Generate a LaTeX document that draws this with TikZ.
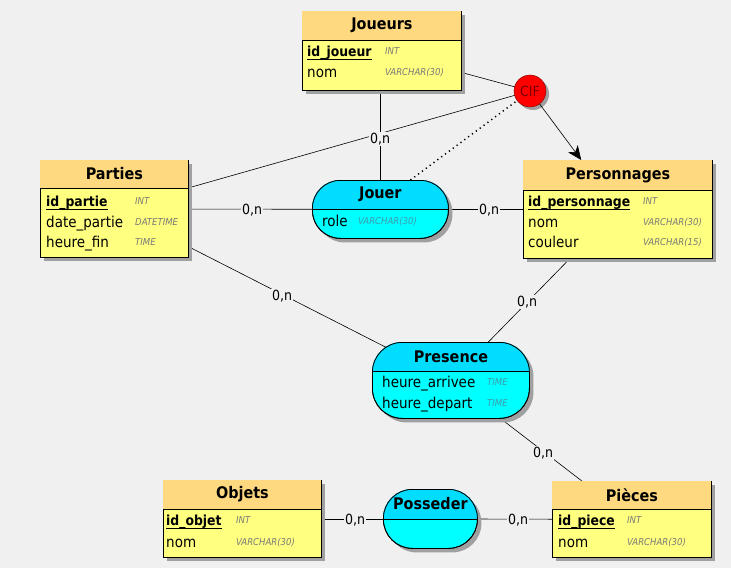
\documentclass[tikz,border=0pt]{standalone}
\usepackage{fontspec}
\setmainfont{DejaVu Sans Condensed}
\usetikzlibrary{shadows,arrows.meta}

\definecolor{fond}{HTML}{F0F0F0}
\definecolor{enthead}{HTML}{FFD980}
\definecolor{entbody}{HTML}{FFFF80}
\definecolor{assohead}{HTML}{00DDFF}
\definecolor{assobody}{HTML}{00FFFF}
\definecolor{typegray}{HTML}{787878}
\definecolor{assotype}{HTML}{3C9CAA}
\definecolor{cifred}{HTML}{FF0000}
\definecolor{cifdark}{HTML}{7A0000}
\definecolor{ombre}{HTML}{A0A0A0}

\pgfdeclarelayer{background}
\pgfsetlayers{background,main}

\tikzset{
  ombrage/.style={drop shadow={shadow xshift=4pt,shadow yshift=-4pt,fill=ombre,opacity=1}},
  entbox/.style={rectangle, draw=black, fill=entbody, ombrage, anchor=north west,
    inner sep=0pt, line width=0.8pt},
  assobox/.style={rectangle, draw=black, fill=assobody, ombrage, anchor=north west,
    inner sep=0pt, line width=0.8pt},
  titre/.style={font=\fontsize{16}{18}\selectfont\bfseries, inner sep=0pt},
  attr/.style={font=\fontsize{15}{17}\selectfont, anchor=west, inner sep=0pt,
    text height=11pt, text depth=3pt},
  cle/.style={font=\fontsize{13.8}{16}\selectfont\bfseries, anchor=west, inner sep=0pt,
    text height=11pt, text depth=3pt},
  typ/.style={font=\fontsize{9.5}{11}\selectfont\itshape, text=typegray, anchor=west,
    inner sep=0pt, text height=7pt, text depth=2pt},
  atyp/.style={typ, text=assotype},
  card/.style={font=\fontsize{14}{16}\selectfont, fill=fond, inner sep=1pt},
  lien/.style={draw=black, line width=0.6pt},
}

% entity box: name, x, y, width, height, header height, title
\newcommand\entite[7]{%
  \node[entbox, minimum width=#4pt, minimum height=#5pt] (#1) at (#2,#3) {};
  \fill[enthead] ([xshift=0.4pt,yshift=-0.4pt]#1.north west)
    rectangle ([xshift=-0.4pt,yshift=-#6pt]#1.north east);
  \draw[line width=0.8pt] ([yshift=-#6pt]#1.north west) -- ([yshift=-#6pt]#1.north east);
  \node[titre] (#1-titre) at ([yshift=-#6pt/2]#1.north) {#7};
}

% association box: name, x, y, width, height, corner radius, header height, title
\newcommand\asso[8]{%
  \node[assobox, rounded corners=#6pt, minimum width=#4pt, minimum height=#5pt] (#1) at (#2,#3) {};
  \begin{scope}
    \clip[rounded corners=#6pt] (#1.north west) rectangle (#1.south east);
    \fill[assohead] (#1.north west) rectangle ([yshift=-#7pt]#1.north east);
  \end{scope}
  \draw[line width=0.8pt] ([yshift=-#7pt]#1.north west) -- ([yshift=-#7pt]#1.north east);
  \draw[line width=0.8pt, rounded corners=#6pt] ([xshift=0.4pt,yshift=-0.4pt]#1.north west)
    rectangle ([xshift=-0.4pt,yshift=0.4pt]#1.south east);
  \node[titre] (#1-titre) at ([yshift=-#7pt/2]#1.north) {#8};
}

% underline of a primary key
\newcommand\souligne[1]{%
  \draw[line width=0.9pt] ([yshift=-3.5pt]#1.base west) -- ([yshift=-3.5pt]#1.base east);
}

\begin{document}
\begin{tikzpicture}[x=1pt, y=-1pt]
\begin{pgfonlayer}{background}
  \fill[fond] (0,0) rectangle (731,568);
\end{pgfonlayer}
\useasboundingbox (0,0) rectangle (731,568);

% ---------- entities ----------
\entite{joueurs}{302}{11}{159}{79}{29}{Joueurs}
\node[cle]  (joueurs-k)  at (307,52) {id\_joueur};
\node[typ]  (joueurs-kt) at (385,52) {INT};
\node[attr] (joueurs-a1) at (307,73) {nom};
\node[typ]  (joueurs-t1) at (385,73) {VARCHAR(30)};
\souligne{joueurs-k}

\entite{parties}{40}{160}{148}{97}{28}{Parties}
\node[cle]  (parties-k)  at (46,202) {id\_partie};
\node[typ]  (parties-kt) at (135,202) {INT};
\node[attr] (parties-a1) at (46,223) {date\_partie};
\node[typ]  (parties-t1) at (135,223) {DATETIME};
\node[attr] (parties-a2) at (46,243) {heure\_fin};
\node[typ]  (parties-t2) at (135,243) {TIME};
\souligne{parties-k}

\entite{personnages}{523}{160}{189}{98}{30}{Personnages}
\node[cle]  (personnages-k)  at (528,202) {id\_personnage};
\node[typ]  (personnages-kt) at (643,202) {INT};
\node[attr] (personnages-a1) at (528,223) {nom};
\node[typ]  (personnages-t1) at (643,223) {VARCHAR(30)};
\node[attr] (personnages-a2) at (528,243) {couleur};
\node[typ]  (personnages-t2) at (643,243) {VARCHAR(15)};
\souligne{personnages-k}

\entite{objets}{163}{480}{158}{77}{29}{Objets}
\node[cle]  (objets-k)  at (166,521) {id\_objet};
\node[typ]  (objets-kt) at (236,521) {INT};
\node[attr] (objets-a1) at (166,543) {nom};
\node[typ]  (objets-t1) at (236,543) {VARCHAR(30)};
\souligne{objets-k}

\entite{pieces}{552}{481}{159}{76}{28}{Pièces}
\node[cle]  (pieces-k)  at (558,521) {id\_piece};
\node[typ]  (pieces-kt) at (627,521) {INT};
\node[attr] (pieces-a1) at (558,543) {nom};
\node[typ]  (pieces-t1) at (627,543) {VARCHAR(30)};
\souligne{pieces-k}

% ---------- associations ----------
\asso{jouer}{312}{180}{136}{58}{28}{29}{Jouer}
\node[attr] (jouer-a1) at (322,222) {role};
\node[atyp] (jouer-t1) at (358,222) {VARCHAR(30)};

\asso{presence}{372}{342}{157}{76}{30}{29}{Presence}
\node[attr] (presence-a1) at (382,383) {heure\_arrivee};
\node[atyp] (presence-t1) at (487,383) {TIME};
\node[attr] (presence-a2) at (382,404) {heure\_depart};
\node[atyp] (presence-t2) at (487,404) {TIME};

\asso{posseder}{383}{489}{94}{59}{29}{30}{Posseder}

% ---------- functional integrity constraint ----------
\node[circle, draw=cifdark, fill=cifred, minimum size=32pt, inner sep=0pt,
      drop shadow={shadow xshift=3pt,shadow yshift=-3pt,fill=ombre,opacity=1},
      text=cifdark, font=\fontsize{14}{16}\selectfont] (cif) at (530,91) {CIF};

% ---------- links ----------
\begin{pgfonlayer}{background}
  \draw[lien] (jouer.north) -- (jouer.north |- joueurs.south);
  \draw[lien] (parties.center) -- (jouer.center);
  \draw[lien] (jouer.center) -- (personnages.center);
  \draw[lien] (parties.center) -- (presence.center);
  \draw[lien] (personnages.center) -- (presence.center);
  \draw[lien] (presence.center) -- (pieces.center);
  \draw[lien] (objets.center) -- (posseder.center);
  \draw[lien] (posseder.center) -- (pieces.center);
  \draw[lien] (joueurs.center) -- (cif.center);
  \draw[lien] (parties.center) -- (cif.center);
  \draw[lien, line width=1.5pt, dash pattern=on 1.2pt off 3.6pt]
    ([xshift=30pt]jouer.north) -- (cif.center);
\end{pgfonlayer}
\draw[lien, -{Stealth[length=14pt,width=12pt,inset=4pt]}] (cif) -- (personnages);

% ---------- cardinalities ----------
\node[card] (card-joueurs)  at (380,139) {0,n};
\node[card] (card-parties1) at (252,210) {0,n};
\node[card] (card-perso1)   at (489,210) {0,n};
\node[card] (card-parties2) at (282,296) {0,n};
\node[card] (card-perso2)   at (527,302) {0,n};
\node[card] (card-pieces1)  at (543,453) {0,n};
\node[card] (card-objets)   at (355,520) {0,n};
\node[card] (card-pieces2)  at (518,520) {0,n};
\end{tikzpicture}
\end{document}
